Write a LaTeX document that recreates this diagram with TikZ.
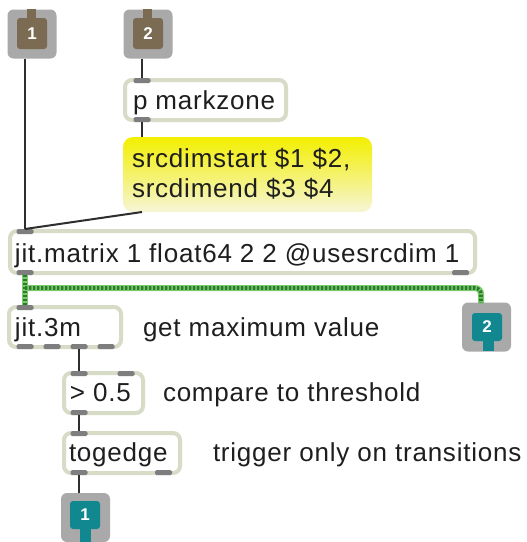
\documentclass[tikz,border=0pt]{standalone}
\usepackage{fontspec}
\newfontfamily\patchfamily[LetterSpace=3]{Liberation Sans}
\newfontfamily\tagfamily{Liberation Sans}
\usetikzlibrary{calc}
\definecolor{boxline}{HTML}{D6DCC6}
\definecolor{portgrey}{HTML}{7E7E7E}
\definecolor{cordgrey}{HTML}{2E2E2E}
\definecolor{iogrey}{HTML}{A9A9A9}
\definecolor{inbrown}{HTML}{7A6B52}
\definecolor{outteal}{HTML}{11878F}
\definecolor{jlight}{HTML}{7CCB6A}
\definecolor{jdark}{HTML}{2B7A30}
\definecolor{msgtop}{HTML}{F3EF00}
\definecolor{msgmid}{HTML}{F0EC3A}
\definecolor{msgbot}{HTML}{F6F5D6}
\definecolor{ink}{HTML}{1E1E1E}
\newcommand\patchtext{\patchfamily\fontsize{26}{30}\selectfont}
\newcommand\tagtext{\tagfamily\bfseries\fontsize{17}{20}\selectfont}
\begin{document}
\begin{tikzpicture}[x=1pt,y=-1pt,
  objbox/.style={draw=boxline, line width=4pt, rounded corners=7pt, fill=white,
    inner sep=0pt, outer sep=0pt, anchor=north west},
  port/.style={fill=portgrey, rounded corners=1.5pt, minimum width=17pt,
    minimum height=5pt, inner sep=0pt, outer sep=0pt},
  label/.style={anchor=base west, inner sep=0pt, outer sep=0pt, text=ink, font=\patchtext},
  cord/.style={draw=cordgrey, line width=2pt},
  jcord/.style={preaction={draw=jlight, line width=6pt}, draw=jdark, line width=3.6pt,
    dash pattern=on 2.4pt off 1.6pt},
  iobox/.style={fill=iogrey, rounded corners=6pt, inner sep=0pt, outer sep=0pt,
    minimum width=49pt, minimum height=49pt},
  inbody/.style={fill=inbrown, rounded corners=3pt, inner sep=0pt, outer sep=0pt,
    minimum width=30pt, minimum height=31pt, text=white, font=\tagtext},
  outbody/.style={fill=outteal, rounded corners=3pt, inner sep=0pt, outer sep=0pt,
    minimum width=30pt, minimum height=28pt, text=white, font=\tagtext}]

\useasboundingbox (0,0) rectangle (527,542);
\fill[white] (0,0) rectangle (527,542);

% inlets
\node[iobox] (in1) at (32,34) {};
\fill[inbrown] (27,9) rectangle (36,20);
\node[inbody] (in1b) at (32,33.5) {1};
\node[iobox] (in2) at (148,34) {};
\fill[inbrown] (143,9) rectangle (152,20);
\node[inbody] (in2b) at (148,33.5) {2};

% outlets
\node[iobox] (out2) at (486.5,327) {};
\fill[outteal] (483,338) rectangle (494,351);
\node[outbody] (out2b) at (487,327) {2};
\node[iobox] (out1) at (85.5,517.5) {};
\fill[outteal] (80,525) rectangle (91,542);
\node[outbody] (out1b) at (85,515) {1};
\coordinate (o2in) at (481,303);

% object boxes
\node[objbox, minimum width=161pt, minimum height=40pt] (pm) at (125,80) {};
\node[objbox, minimum width=465pt, minimum height=42pt] (mat) at (10,231) {};
\node[objbox, minimum width=112pt, minimum height=40pt] (j3m) at (9,307) {};
\node[objbox, minimum width=79pt, minimum height=40pt] (gt) at (64,373) {};
\node[objbox, minimum width=116pt, minimum height=40pt] (tog) at (64,433) {};

% message box
\node[anchor=north west, rounded corners=10pt, top color=msgtop, middle color=msgmid,
  bottom color=msgbot, inner sep=0pt, outer sep=0pt,
  minimum width=249pt, minimum height=75pt] (msg) at (123,137) {};

% box texts
\node[label] (pmt) at (133,109) {p markzone};
\node[label] (msgl1) at (132,167) {srcdimstart \$1 \$2,};
\node[label] (msgl2) at (132,197) {srcdimend \$3 \$4};
\node[label] (matt) at (15,262) {jit.matrix 1 float64 2 2 @usesrcdim 1};
\node[label] (j3mt) at (15,336) {jit.3m};
\node[label] (gtt) at (70,401) {> 0.5};
\node[label] (togt) at (69,461) {togedge};

% comments
\node[label] (c1) at (143,336) {get maximum value};
\node[label] (c2) at (163,401) {compare to threshold};
\node[label] (c3) at (213,461) {trigger only on transitions};

% ports
\node[port] (pmin) at (142,80.5) {};
\node[port] (pmout) at (142,119.5) {};
\node[port] (matin) at (25,231.5) {};
\node[port] (matout) at (25,272.5) {};
\node[port] (matout2) at (460.5,272.5) {};
\node[port] (j3min) at (25,307.5) {};
\node[port] (j3mo1) at (25,346.5) {};
\node[port] (j3mo2) at (52,346.5) {};
\node[port] (j3mo3) at (79,346.5) {};
\node[port] (j3mo4) at (106,346.5) {};
\node[port] (gtin) at (79,373.5) {};
\node[port] (gtin2) at (126,373.5) {};
\node[port] (gtout) at (79,412.5) {};
\node[port] (togin) at (79,433.5) {};
\node[port] (togout) at (79,472.5) {};
\node[port] (togout2) at (163.5,472.5) {};

% patch cords
\draw[cord] (in1.south -| matin) -- (matin.north);
\draw[cord] (in2.south -| pmin) -- (pmin.north);
\draw[cord] (pmout.south) -- (pmout.south |- msg.north);
\draw[cord] (msg.south -| pmout) -- (matin.north);
\draw[cord] (j3mo3.south) -- (gtin.north);
\draw[cord] (gtout.south) -- (togin.north);
\draw[cord] (togout.south) -- (togout.south |- out1.north);

% matrix cords
\coordinate (split) at (25,288);
\draw[jcord] (matout.south) -- (j3min.north);
\draw[jcord, rounded corners=6pt] (split) -| (o2in);
\end{tikzpicture}
\end{document}
